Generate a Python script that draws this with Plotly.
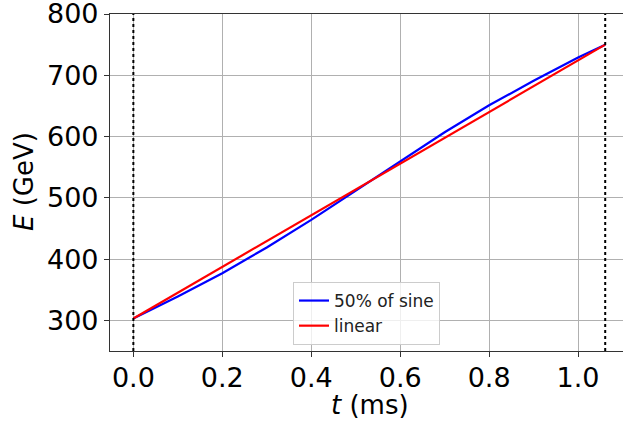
import plotly.graph_objects as go

# data
t_sine = [0.0, 0.1, 0.2, 0.3, 0.4, 0.5, 0.6, 0.7, 0.8, 0.9, 1.0, 1.061]
E_sine = [303, 339, 377, 419, 464, 512, 560, 607, 651, 691, 729, 750]
t_lin = [0.0, 1.061]
E_lin = [303, 750]
t_marks = [0.0, 1.061]  # vertical dotted lines
x_ticks = [0.0, 0.2, 0.4, 0.6, 0.8, 1.0]
x_ticklabels = ["0.0", "0.2", "0.4", "0.6", "0.8", "1.0"]
y_ticks = [300, 400, 500, 600, 700, 800]

FONT = "DejaVu Sans"
W, H = 623, 421
# plot area in page coordinates: left 110, top 14, right 623, bottom 351
ML, MR, MT, MB = 110, 0, 14, 421 - 351
pw = W - ML - MR
ph = H - MT - MB


def px(xp):  # page x -> paper
    return (xp - ML) / pw


def py(yp):  # page y -> paper
    return (H - MB - yp) / ph


fig = go.Figure()
fig.add_trace(go.Scatter(x=t_sine, y=E_sine, mode="lines", name="50% of sine",
                         line=dict(color="#0000ff", width=2.2)))
fig.add_trace(go.Scatter(x=t_lin, y=E_lin, mode="lines", name="linear",
                         line=dict(color="#ff0000", width=2.2)))

for tv in t_marks:
    fig.add_shape(type="line", x0=tv, x1=tv, y0=0, y1=1, xref="x", yref="paper",
                  line=dict(color="black", width=2, dash="dot"))

fig.add_annotation(text="<i>t</i> (ms)", xref="paper", yref="paper",
                   x=px(370), y=py(405), xanchor="center", yanchor="middle",
                   showarrow=False, font=dict(size=26, family=FONT, color="black"))
fig.add_annotation(text="<i>E</i> (GeV)", xref="paper", yref="paper",
                   x=px(24), y=py(182), textangle=-90,
                   xanchor="center", yanchor="middle", showarrow=False,
                   font=dict(size=26, family=FONT, color="black"))

fig.update_layout(
    width=W, height=H,
    margin=dict(l=ML, r=MR, t=MT, b=MB, autoexpand=False),
    plot_bgcolor="white", paper_bgcolor="white",
    font=dict(family=FONT, color="black"),
    showlegend=True,
    legend=dict(x=px(293), y=py(282), xanchor="left", yanchor="top",
                bgcolor="rgba(255,255,255,0.8)", bordercolor="#cccccc", borderwidth=1,
                font=dict(size=17, family=FONT, color="#222"), tracegroupgap=0,
                itemwidth=30),
)
fig.update_xaxes(
    range=[-0.0525, 1.101], tickvals=x_ticks, ticktext=x_ticklabels,
    tickfont=dict(size=27, family=FONT), ticks="outside", ticklen=5, tickcolor="#333",
    ticklabelstandoff=-3, ticklabeloverflow="allow",
    showgrid=True, gridcolor="#b0b0b0", gridwidth=1, automargin=False,
    showline=True, linecolor="#333", linewidth=1.2, mirror=True, zeroline=False,
)
fig.update_yaxes(
    range=[250, 800], tickvals=y_ticks, ticklabeloverflow="allow",
    tickfont=dict(size=27, family=FONT), ticks="outside", ticklen=5, tickcolor="#333",
    showgrid=True, gridcolor="#b0b0b0", gridwidth=1, automargin=False,
    showline=True, linecolor="#333", linewidth=1.2, mirror=False, zeroline=False,
)

fig.write_html("out.html", config={"displayModeBar": False},
               post_script="document.body.style.margin='0';document.body.style.overflow='hidden';")
